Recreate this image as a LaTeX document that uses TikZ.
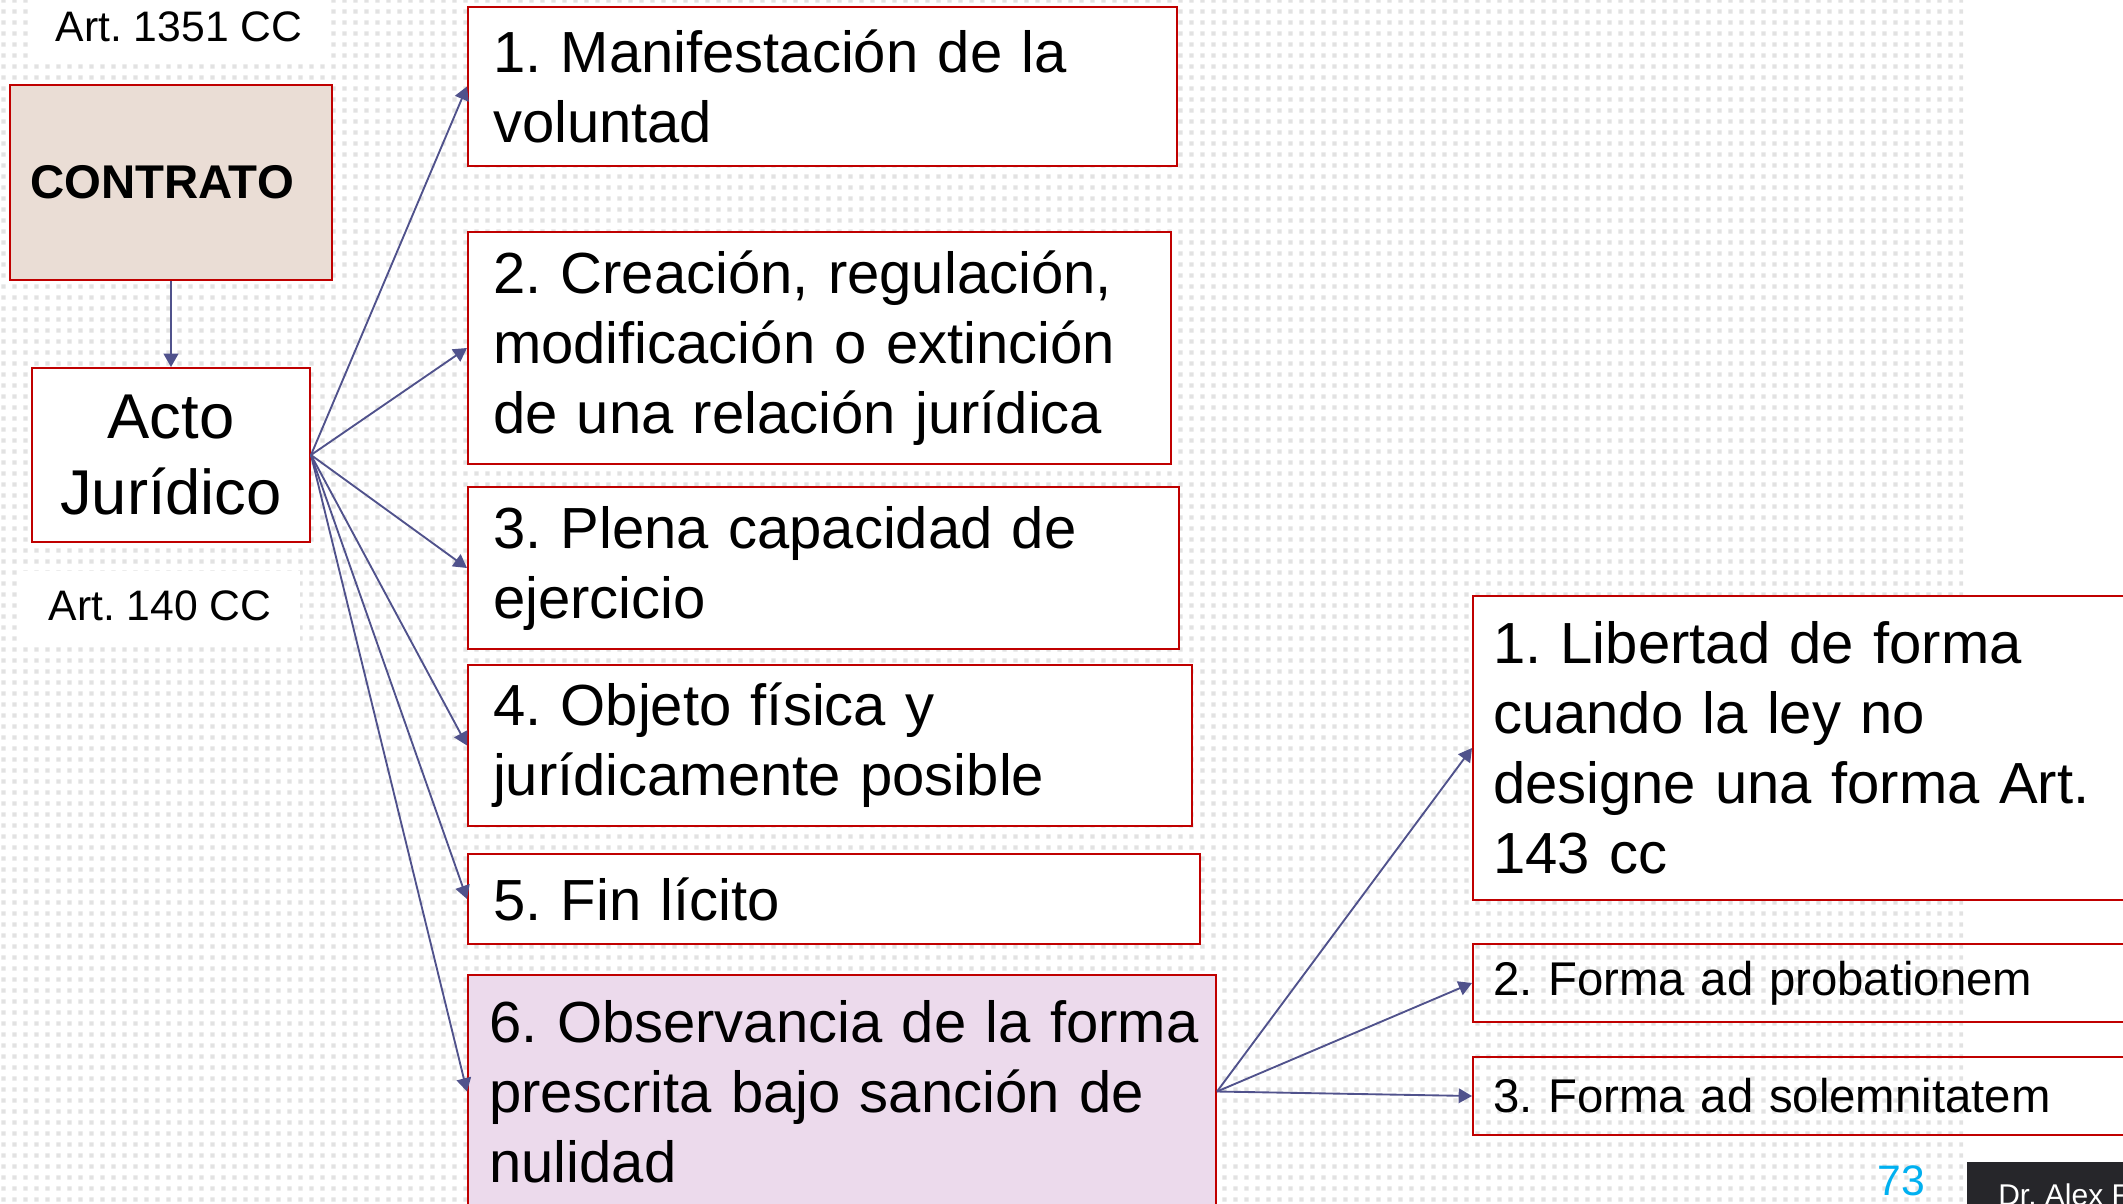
\documentclass[tikz,border=0pt]{standalone}
\usepackage{fontspec}
\setmainfont{Liberation Sans}
\usetikzlibrary{arrows.meta,patterns}
\definecolor{boxred}{RGB}{192,0,0}
\definecolor{conncol}{RGB}{80,82,140}
\definecolor{contfill}{RGB}{234,221,213}
\definecolor{sixfill}{RGB}{236,218,236}
\definecolor{pagenum}{RGB}{0,176,240}
\definecolor{footbg}{RGB}{38,38,42}
\definecolor{dotgray}{RGB}{226,226,226}
\pgfdeclarepatternformonly{bgdots}{\pgfpointorigin}{\pgfpoint{8.25pt}{8.25pt}}{\pgfpoint{8.25pt}{8.25pt}}{\pgfpathrectangle{\pgfpoint{2pt}{2pt}}{\pgfpoint{3.5pt}{3.5pt}}\pgfusepath{fill}}
\frenchspacing
\begin{document}
\frenchspacing
\begin{tikzpicture}[x=0.75pt,y=-0.75pt,
  mainbox/.style={draw=boxred, line width=1.5pt, fill=white, rectangle, inner xsep=18.75pt, inner ysep=0pt, align=left, font=\fontsize{43.5}{52.5}\selectfont},
  rbox/.style={draw=boxred, line width=1.5pt, rectangle, inner xsep=15pt, inner ysep=0pt, align=left, text width=470.25pt},
  artlabel/.style={fill=white, inner sep=0pt},
  conn/.style={draw=conncol, line width=1.4pt, -{Triangle[length=10pt,width=11pt]}}
]
\useasboundingbox (0,0) rectangle (2123,1203);
\fill[white] (0,0) rectangle (2123,1203);
\fill[pattern=bgdots, pattern color=dotgray] (0,0) rectangle (1963,1203);

% left column
\node[artlabel, minimum width=219pt, minimum height=51pt, font=\fontsize{32}{36}\selectfont] (art1351) at (179,27) {Art. 1351 CC};
\node[draw=boxred, line width=1.5pt, fill=contfill, text width=211.5pt, align=left, minimum height=146.25pt, inner xsep=15pt, inner ysep=0pt, font=\bfseries\fontsize{35.5}{40}\selectfont] (contrato) at (171,182.5) {CONTRATO};
\node[draw=boxred, line width=1.5pt, fill=white, minimum width=208.5pt, minimum height=130.5pt, inner sep=0pt, align=center, font=\fontsize{47.5}{57}\selectfont] (acto) at (171,455) {Acto\\Jurídico};
\node[artlabel, minimum width=210pt, minimum height=52pt, font=\fontsize{32}{36}\selectfont] (art140) at (160,606) {Art. 140 CC};

% middle column
\node[mainbox, text width=494.25pt, minimum height=119.25pt] (b1) at (822.5,86.5) {1. Manifestación de la\\voluntad};
\node[mainbox, text width=489.75pt, minimum height=174pt] (b2) at (819.5,348) {2. Creación, regulación,\\modificación o extinción\\de una relación jurídica};
\node[mainbox, text width=495.75pt, minimum height=121.5pt] (b3) at (823.5,568) {3. Plena capacidad de\\ejercicio};
\node[mainbox, text width=505.5pt, minimum height=120.75pt] (b4) at (830,745.5) {4. Objeto física y\\jurídicamente posible};
\node[mainbox, text width=511.5pt, minimum height=67.5pt] (b5) at (834,899) {5. Fin lícito};
\node[mainbox, fill=sixfill, inner xsep=16pt, text width=529pt, minimum height=174.75pt] (b6) at (842,1091.5) {\mbox{6. Observancia de la forma}\\\mbox{prescrita bajo sanción de}\\nulidad};

% right column
\node[rbox, fill=white, minimum height=228pt, font=\fontsize{43.5}{52.5}\selectfont] (r1) at (1806.5,748) {1. Libertad de forma\\cuando la ley no\\designe una forma Art.\\143 cc};
\node[rbox, minimum height=58.5pt, font=\fontsize{35.5}{42}\selectfont] (r2) at (1806.5,983) {2. Forma ad probationem};
\node[rbox, minimum height=58.5pt, font=\fontsize{35.5}{42}\selectfont] (r3) at (1806.5,1096) {3. Forma ad solemnitatem};

% connectors
\draw[conn] (contrato.south) -- (acto.north);
\foreach \b in {b1,b2,b3,b4,b5,b6} \draw[conn] (acto.east) -- (\b.west);
\foreach \r in {r1,r2,r3} \draw[conn] (b6.east) -- (\r.west);

% footer
\node[anchor=base west, text=pagenum, inner sep=0pt, font=\fontsize{32}{36}\selectfont] (pnum) at (1877,1195) {73};
\node[anchor=north west, fill=footbg, minimum width=129.75pt, minimum height=36pt, inner sep=0pt] (foot) at (1967,1162) {};
\begin{scope}
\clip (1967,1162) rectangle (2123,1203);
\node[anchor=base west, text=white, inner sep=0pt, font=\fontsize{22.5}{26}\selectfont] (foottxt) at (1998,1205) {Dr. Alex F};
\end{scope}
\end{tikzpicture}
\end{document}
